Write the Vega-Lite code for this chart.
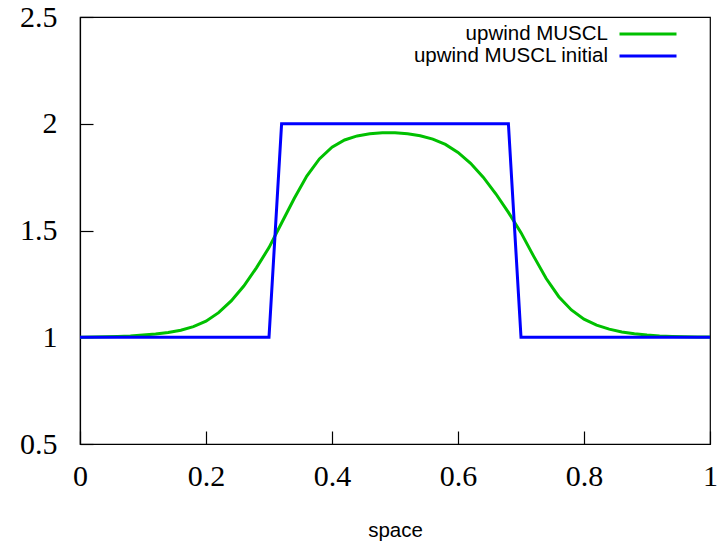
{
  "$schema": "https://vega.github.io/schema/vega-lite/v6.json",
  "autosize": {"type": "none"},
  "padding": {"left": 80, "top": 17, "right": 10, "bottom": 103},
  "width": 630,
  "height": 427,
  "config": {
    "view": {"stroke": "#000000", "strokeWidth": 1.2},
    "axis": {"grid": false, "domainColor": "#000000", "domainWidth": 1.2, "tickColor": "#000000", "tickWidth": 1.2, "labelColor": "#000000", "titleColor": "#000000"}
  },
  "datasets": {
    "curves": [
      {"x": 0.00, "y": 1.000, "series": "upwind MUSCL"},
      {"x": 0.02, "y": 1.001, "series": "upwind MUSCL"},
      {"x": 0.04, "y": 1.002, "series": "upwind MUSCL"},
      {"x": 0.06, "y": 1.004, "series": "upwind MUSCL"},
      {"x": 0.08, "y": 1.006, "series": "upwind MUSCL"},
      {"x": 0.10, "y": 1.010, "series": "upwind MUSCL"},
      {"x": 0.12, "y": 1.015, "series": "upwind MUSCL"},
      {"x": 0.14, "y": 1.022, "series": "upwind MUSCL"},
      {"x": 0.16, "y": 1.033, "series": "upwind MUSCL"},
      {"x": 0.18, "y": 1.050, "series": "upwind MUSCL"},
      {"x": 0.20, "y": 1.075, "series": "upwind MUSCL"},
      {"x": 0.22, "y": 1.115, "series": "upwind MUSCL"},
      {"x": 0.24, "y": 1.170, "series": "upwind MUSCL"},
      {"x": 0.26, "y": 1.240, "series": "upwind MUSCL"},
      {"x": 0.28, "y": 1.325, "series": "upwind MUSCL"},
      {"x": 0.30, "y": 1.420, "series": "upwind MUSCL"},
      {"x": 0.32, "y": 1.535, "series": "upwind MUSCL"},
      {"x": 0.34, "y": 1.650, "series": "upwind MUSCL"},
      {"x": 0.36, "y": 1.755, "series": "upwind MUSCL"},
      {"x": 0.38, "y": 1.835, "series": "upwind MUSCL"},
      {"x": 0.40, "y": 1.890, "series": "upwind MUSCL"},
      {"x": 0.42, "y": 1.924, "series": "upwind MUSCL"},
      {"x": 0.44, "y": 1.943, "series": "upwind MUSCL"},
      {"x": 0.46, "y": 1.953, "series": "upwind MUSCL"},
      {"x": 0.48, "y": 1.958, "series": "upwind MUSCL"},
      {"x": 0.50, "y": 1.958, "series": "upwind MUSCL"},
      {"x": 0.52, "y": 1.953, "series": "upwind MUSCL"},
      {"x": 0.54, "y": 1.944, "series": "upwind MUSCL"},
      {"x": 0.56, "y": 1.928, "series": "upwind MUSCL"},
      {"x": 0.58, "y": 1.903, "series": "upwind MUSCL"},
      {"x": 0.60, "y": 1.866, "series": "upwind MUSCL"},
      {"x": 0.62, "y": 1.815, "series": "upwind MUSCL"},
      {"x": 0.64, "y": 1.750, "series": "upwind MUSCL"},
      {"x": 0.66, "y": 1.672, "series": "upwind MUSCL"},
      {"x": 0.68, "y": 1.585, "series": "upwind MUSCL"},
      {"x": 0.70, "y": 1.490, "series": "upwind MUSCL"},
      {"x": 0.72, "y": 1.380, "series": "upwind MUSCL"},
      {"x": 0.74, "y": 1.275, "series": "upwind MUSCL"},
      {"x": 0.76, "y": 1.190, "series": "upwind MUSCL"},
      {"x": 0.78, "y": 1.128, "series": "upwind MUSCL"},
      {"x": 0.80, "y": 1.085, "series": "upwind MUSCL"},
      {"x": 0.82, "y": 1.057, "series": "upwind MUSCL"},
      {"x": 0.84, "y": 1.038, "series": "upwind MUSCL"},
      {"x": 0.86, "y": 1.025, "series": "upwind MUSCL"},
      {"x": 0.88, "y": 1.016, "series": "upwind MUSCL"},
      {"x": 0.90, "y": 1.010, "series": "upwind MUSCL"},
      {"x": 0.92, "y": 1.006, "series": "upwind MUSCL"},
      {"x": 0.94, "y": 1.004, "series": "upwind MUSCL"},
      {"x": 0.96, "y": 1.002, "series": "upwind MUSCL"},
      {"x": 0.98, "y": 1.001, "series": "upwind MUSCL"},
      {"x": 1.00, "y": 1.001, "series": "upwind MUSCL"},
      {"x": 0.00, "y": 1, "series": "upwind MUSCL initial"},
      {"x": 0.02, "y": 1, "series": "upwind MUSCL initial"},
      {"x": 0.04, "y": 1, "series": "upwind MUSCL initial"},
      {"x": 0.06, "y": 1, "series": "upwind MUSCL initial"},
      {"x": 0.08, "y": 1, "series": "upwind MUSCL initial"},
      {"x": 0.10, "y": 1, "series": "upwind MUSCL initial"},
      {"x": 0.12, "y": 1, "series": "upwind MUSCL initial"},
      {"x": 0.14, "y": 1, "series": "upwind MUSCL initial"},
      {"x": 0.16, "y": 1, "series": "upwind MUSCL initial"},
      {"x": 0.18, "y": 1, "series": "upwind MUSCL initial"},
      {"x": 0.20, "y": 1, "series": "upwind MUSCL initial"},
      {"x": 0.22, "y": 1, "series": "upwind MUSCL initial"},
      {"x": 0.24, "y": 1, "series": "upwind MUSCL initial"},
      {"x": 0.26, "y": 1, "series": "upwind MUSCL initial"},
      {"x": 0.28, "y": 1, "series": "upwind MUSCL initial"},
      {"x": 0.30, "y": 1, "series": "upwind MUSCL initial"},
      {"x": 0.32, "y": 2, "series": "upwind MUSCL initial"},
      {"x": 0.34, "y": 2, "series": "upwind MUSCL initial"},
      {"x": 0.36, "y": 2, "series": "upwind MUSCL initial"},
      {"x": 0.38, "y": 2, "series": "upwind MUSCL initial"},
      {"x": 0.40, "y": 2, "series": "upwind MUSCL initial"},
      {"x": 0.42, "y": 2, "series": "upwind MUSCL initial"},
      {"x": 0.44, "y": 2, "series": "upwind MUSCL initial"},
      {"x": 0.46, "y": 2, "series": "upwind MUSCL initial"},
      {"x": 0.48, "y": 2, "series": "upwind MUSCL initial"},
      {"x": 0.50, "y": 2, "series": "upwind MUSCL initial"},
      {"x": 0.52, "y": 2, "series": "upwind MUSCL initial"},
      {"x": 0.54, "y": 2, "series": "upwind MUSCL initial"},
      {"x": 0.56, "y": 2, "series": "upwind MUSCL initial"},
      {"x": 0.58, "y": 2, "series": "upwind MUSCL initial"},
      {"x": 0.60, "y": 2, "series": "upwind MUSCL initial"},
      {"x": 0.62, "y": 2, "series": "upwind MUSCL initial"},
      {"x": 0.64, "y": 2, "series": "upwind MUSCL initial"},
      {"x": 0.66, "y": 2, "series": "upwind MUSCL initial"},
      {"x": 0.68, "y": 2, "series": "upwind MUSCL initial"},
      {"x": 0.70, "y": 1, "series": "upwind MUSCL initial"},
      {"x": 0.72, "y": 1, "series": "upwind MUSCL initial"},
      {"x": 0.74, "y": 1, "series": "upwind MUSCL initial"},
      {"x": 0.76, "y": 1, "series": "upwind MUSCL initial"},
      {"x": 0.78, "y": 1, "series": "upwind MUSCL initial"},
      {"x": 0.80, "y": 1, "series": "upwind MUSCL initial"},
      {"x": 0.82, "y": 1, "series": "upwind MUSCL initial"},
      {"x": 0.84, "y": 1, "series": "upwind MUSCL initial"},
      {"x": 0.86, "y": 1, "series": "upwind MUSCL initial"},
      {"x": 0.88, "y": 1, "series": "upwind MUSCL initial"},
      {"x": 0.90, "y": 1, "series": "upwind MUSCL initial"},
      {"x": 0.92, "y": 1, "series": "upwind MUSCL initial"},
      {"x": 0.94, "y": 1, "series": "upwind MUSCL initial"},
      {"x": 0.96, "y": 1, "series": "upwind MUSCL initial"},
      {"x": 0.98, "y": 1, "series": "upwind MUSCL initial"},
      {"x": 1.00, "y": 1, "series": "upwind MUSCL initial"}
    ]
  },
  "data": {"name": "curves"},
  "mark": {"type": "line", "strokeWidth": 3, "clip": true},
  "encoding": {
    "x": {
      "field": "x", "type": "quantitative",
      "scale": {"domain": [0, 1], "nice": false, "zero": false},
      "axis": {
        "title": "space", "titleFont": "Liberation Sans", "titleFontSize": 20.5, "titleFontWeight": "normal", "titlePadding": 29,
        "values": [0, 0.2, 0.4, 0.6, 0.8, 1],
        "labelExpr": "format(datum.value, '')",
        "labelFont": "Liberation Serif", "labelFontSize": 30, "labelPadding": 30,
        "tickSize": -13, "labelFlush": false, "labelOverlap": false
      }
    },
    "y": {
      "field": "y", "type": "quantitative",
      "scale": {"domain": [0.5, 2.5], "nice": false, "zero": false},
      "axis": {
        "title": null,
        "values": [0.5, 1, 1.5, 2, 2.5],
        "labelExpr": "format(datum.value, '')",
        "labelFont": "Liberation Serif", "labelFontSize": 30, "labelPadding": 36,
        "tickSize": -13, "labelFlush": false, "labelOverlap": false
      }
    },
    "color": {
      "field": "series", "type": "nominal",
      "scale": {"domain": ["upwind MUSCL", "upwind MUSCL initial"], "range": ["#00c000", "#0000ff"]},
      "legend": {
        "title": null, "orient": "none", "legendX": 557, "legendY": 6, "padding": 0,
        "symbolType": "M-3,0L3,0", "symbolSize": 361, "symbolStrokeWidth": 3, "symbolFillColor": "transparent",
        "labelFont": "Liberation Sans", "labelFontSize": 20.5, "labelColor": "#000000", "labelLimit": 400,
        "labelAlign": "right", "labelOffset": -51, "rowPadding": 0
      }
    }
  }
}
